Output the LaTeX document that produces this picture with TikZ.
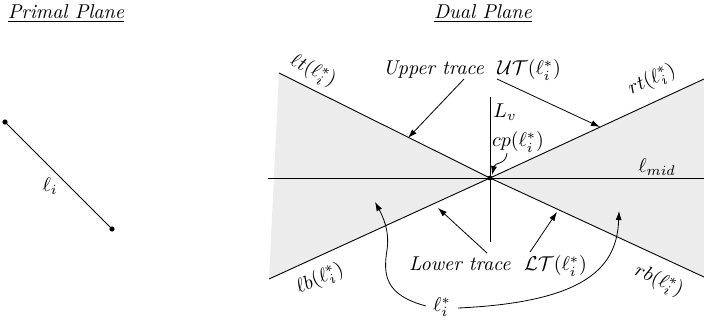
\documentclass[tikz,border=0pt]{standalone}
\usetikzlibrary{arrows.meta}
\definecolor{regiongray}{RGB}{236,236,236}
\begin{document}
\begin{tikzpicture}[x=0.5pt,y=-0.5pt,
  ln/.style={line width=0.45pt},
  arr/.style={line width=0.4pt,-{Latex[length=4.5pt,width=3pt]}},
  lbl/.style={inner sep=1pt}]
\useasboundingbox (0,0) rectangle (704,326);
% dual plane geometry
\coordinate (cp) at (490,178);
\coordinate (tl) at (279,73);
\coordinate (tr) at (704,79);
\coordinate (bl) at (269,279);
\coordinate (br) at (704,277);
\coordinate (ml) at (268,178);
\coordinate (mr) at (704,178);
\coordinate (vt) at (490,97);
\coordinate (vb) at (490,242);
\fill[regiongray] (tl) -- (cp) -- (bl) -- cycle;
\fill[regiongray] (cp) -- (tr) -- (br) -- cycle;
\draw[ln] (tl) -- (cp) -- (tr);
\draw[ln] (bl) -- (cp) -- (br);
\draw[ln] (ml) -- (mr);
\draw[ln] (vt) -- (vb);
\fill (cp) circle (1.2pt);
% primal plane
\node[lbl] (primal) at (66,14) {\underline{\textit{Primal Plane}}};
\coordinate (p1) at (5,122);
\coordinate (p2) at (112,229);
\draw[ln] (p1) -- (p2);
\fill (p1) circle (1.3pt);
\fill (p2) circle (1.3pt);
\node[lbl] (li) at (50,186) {$\ell_i$};
% titles and labels
\node[lbl] (dual) at (483,14) {\underline{\textit{Dual Plane}}};
\node[lbl] (ut) at (472,70) {\textit{Upper trace}\ \ $\mathcal{UT}(\ell_i^*)$};
\node[lbl] (lt) at (498,266) {\textit{Lower trace}\ \ $\mathcal{LT}(\ell_i^*)$};
\node[lbl,rotate=-26.5] (ltl) at (313,71) {$\ell t(\ell_i^*)$};
\node[lbl,rotate=24.8] (rtl) at (652,80) {$rt(\ell_i^*)$};
\node[lbl,rotate=24.6] (lbl) at (320,279) {$\ell b(\ell_i^*)$};
\node[lbl,rotate=-24.8] (rbl) at (659,281) {$rb(\ell_i^*)$};
\node[lbl] (lmid) at (657,167) {$\ell_{mid}$};
\node[lbl] (lv) at (505,112) {$L_v$};
\node[lbl] (cpl) at (518,142) {$cp(\ell_i^*)$};
\node[lbl] (lstar) at (442,307) {$\ell_i^*$};
% arrow ends
\coordinate (ua1) at (464,79);
\coordinate (ua1e) at (408,138);
\coordinate (ua2) at (497,79);
\coordinate (ua2e) at (600,127);
\coordinate (la1) at (487,253);
\coordinate (la1e) at (438,208);
\coordinate (la2) at (530,252);
\coordinate (la2e) at (557,212);
\coordinate (cps) at (507,153);
\coordinate (cpe) at (492,175);
\coordinate (ls1) at (426,306);
\coordinate (ls1m) at (387,250);
\coordinate (ls1e) at (375,202);
\coordinate (ls2) at (458,308);
\coordinate (ls2e) at (619,211);
\draw[arr] (ua1) -- (ua1e);
\draw[arr] (ua2) -- (ua2e);
\draw[arr] (la1) -- (la1e);
\draw[arr] (la2) -- (la2e);
\draw[arr] (cps) .. controls (506,165) and (495,162) .. (cpe);
\draw[arr] (ls1) .. controls (385,295) and (383,275) .. (ls1m) .. controls (390,230) and (382,215) .. (ls1e);
\draw[arr] (ls2) .. controls (590,302) and (617,265) .. (ls2e);
\end{tikzpicture}
\end{document}
